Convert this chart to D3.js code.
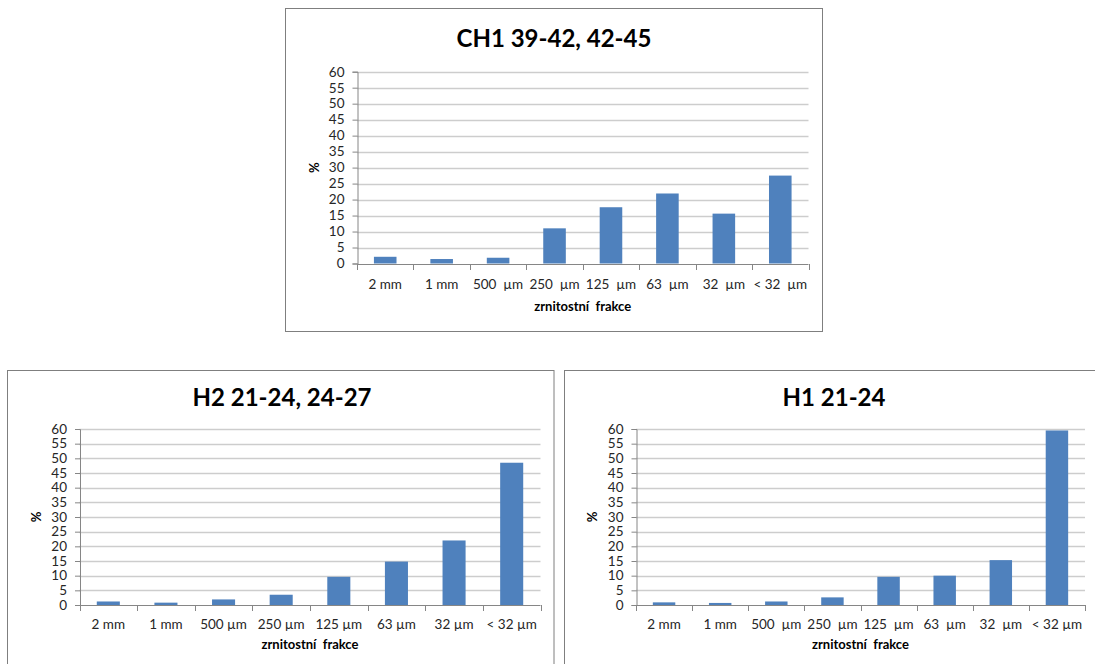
<!DOCTYPE html>
<html>
<head>
<meta charset="utf-8">
<script src="https://cdn.jsdelivr.net/npm/d3@7"></script>
<style>
  html, body { margin: 0; padding: 0; background: #fff; }
  svg { display: block; }
  text { font-family: Lato, "Open Sans", sans-serif; white-space: pre; }
</style>
</head>
<body>
<svg id="chart" width="1095" height="664"></svg>
<script>
// ---------- data ----------
const categories = ["2 mm", "1 mm", "500 µm", "250 µm", "125 µm", "63 µm", "32 µm", "< 32 µm"];
const labelsCH1 = ["2 mm", "1 mm", "500  µm", "250  µm", "125  µm", "63  µm", "32  µm", "< 32  µm"];
const labelsH2  = ["2 mm", "1 mm", "500 µm", "250 µm", "125 µm", "63 µm", "32 µm", "< 32 µm"];
const labelsH1  = ["2 mm", "1 mm", "500  µm", "250  µm", "125  µm", "63  µm", "32  µm", "< 32 µm"];
const valuesCH1 = [2.1, 1.4, 1.8, 11.0, 17.6, 21.9, 15.6, 27.5];
const valuesH2  = [1.2, 0.8, 1.9, 3.5, 9.6, 14.8, 22.0, 48.5];
const valuesH1  = [0.9, 0.7, 1.2, 2.6, 9.6, 10.0, 15.3, 59.5];
const yTicks = [0, 5, 10, 15, 20, 25, 30, 35, 40, 45, 50, 55, 60];
const titles = ["CH1 39-42, 42-45", "H2 21-24, 24-27", "H1 21-24"];
const xTitle = "zrnitostní  frakce";
const yTitle = "%";

// ---------- layout ----------
const charts = [
  { title: titles[0], labels: labelsCH1, values: valuesCH1,
    box: [285.5, 8.5, 537, 323], plot: [357, 71.7, 808.5, 263.5], titleX: 554, titleY: 47,
    xLabY: 288, xTitleY: 311, yTitleX: 319, yFont: 13.5 },
  { title: titles[1], labels: labelsH2, values: valuesH2,
    box: [7.5, 370.5, 546.5, 320], plot: [79.5, 429, 540.5, 605], titleX: 282, titleY: 406,
    xLabY: 628, xTitleY: 649, yTitleX: 41, yFont: 13.5 },
  { title: titles[2], labels: labelsH1, values: valuesH1,
    box: [564.5, 370.5, 540, 320], plot: [636, 429, 1085, 605], titleX: 834, titleY: 406,
    xLabY: 628, xTitleY: 649, yTitleX: 597, yFont: 13.5 }
];

const svg = d3.select("#chart");

charts.forEach(c => {
  const g = svg.append("g");
  const [bx, by, bw, bh] = c.box;
  g.append("rect").attr("x", bx).attr("y", by).attr("width", bw).attr("height", bh)
    .attr("fill", "#fff").attr("stroke", "#7f7f7f").attr("stroke-width", 1);

  const [x0, yTop, x1, yBot] = c.plot;
  const x = d3.scaleBand().domain(categories).range([x0, x1]).paddingInner(0.6).paddingOuter(0.3);
  const xb = d3.scaleBand().domain(categories).range([x0, x1]).padding(0);
  const y = d3.scaleLinear().domain([0, 60]).range([yBot, yTop]);

  // gridlines
  g.append("g").selectAll("line").data(yTicks.filter(t => t > 0)).join("line")
    .attr("x1", x0).attr("x2", x1)
    .attr("y1", d => Math.round(y(d)) + 0.5).attr("y2", d => Math.round(y(d)) + 0.5)
    .attr("stroke", "#cdcdcd").attr("stroke-width", 1.3);

  // bars
  g.append("g").selectAll("rect").data(c.values).join("rect")
    .attr("x", (d, i) => x(categories[i]))
    .attr("width", x.bandwidth())
    .attr("y", d => y(d))
    .attr("height", d => y(0) - y(d))
    .attr("fill", "#4f81bd");

  // y axis
  const yAxis = d3.axisLeft(y).tickValues(yTicks).tickSize(5).tickPadding(8).tickFormat(d3.format("d"));
  const ya = g.append("g").attr("transform", `translate(${x0 + 0.5},0)`).call(yAxis);
  ya.select(".domain").attr("stroke", "#868686");
  ya.selectAll(".tick line").attr("stroke", "#868686");
  ya.selectAll(".tick text").attr("font-family", "Lato, sans-serif").attr("font-size", c.yFont).attr("fill", "#262626");

  // x axis
  const xAxis = d3.axisBottom(xb).tickSize(0).tickFormat((d, i) => c.labels[i]);
  const xa = g.append("g").attr("transform", `translate(0,${Math.round(yBot) + 0.5})`).call(xAxis);
  xa.select(".domain").attr("stroke", "#868686").attr("d", `M${x0},0H${x1}`);
  xa.selectAll(".tick text").attr("font-family", "Lato, sans-serif").attr("font-size", 13.5)
    .attr("fill", "#262626").attr("y", null).attr("dy", null)
    .attr("transform", `translate(0,${c.xLabY - Math.round(yBot)})`);
  // boundary tick marks
  const bounds = categories.map(cat => xb(cat)).concat([x1]);
  g.append("g").selectAll("line").data(bounds).join("line")
    .attr("x1", d => Math.round(d) + 0.5).attr("x2", d => Math.round(d) + 0.5)
    .attr("y1", Math.round(yBot)).attr("y2", Math.round(yBot) + 6)
    .attr("stroke", "#868686");

  // titles
  g.append("text").attr("x", c.titleX).attr("y", c.titleY).attr("text-anchor", "middle")
    .attr("font-size", 24).attr("font-weight", "bold").attr("fill", "#000").text(c.title);
  g.append("text").attr("x", (x0 + x1) / 2).attr("y", c.xTitleY).attr("text-anchor", "middle")
    .attr("font-size", 13).attr("font-weight", "bold").attr("fill", "#000").text(xTitle);
  g.append("text").attr("transform", `translate(${c.yTitleX},${(yTop + yBot) / 2}) rotate(-90)`)
    .attr("text-anchor", "middle").attr("font-size", 13).attr("font-weight", "bold").attr("fill", "#000").text(yTitle);
});
</script>
</body>
</html>
